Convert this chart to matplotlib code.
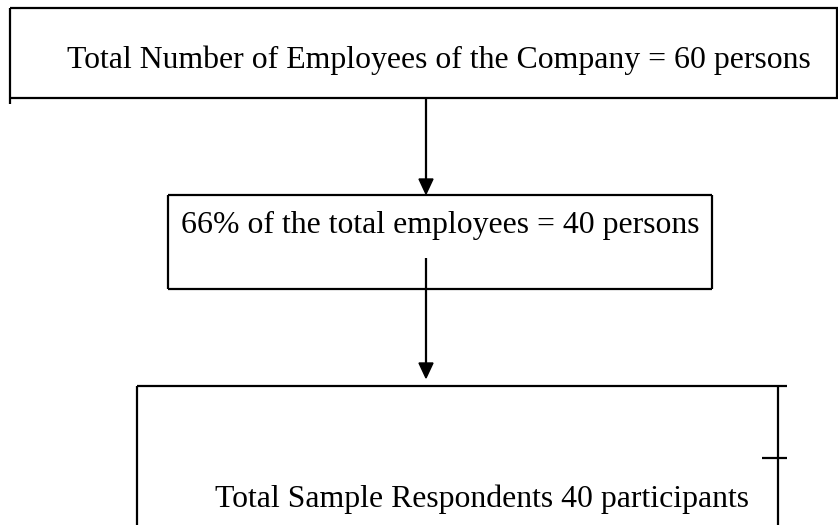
import matplotlib
matplotlib.use("Agg")
import matplotlib.pyplot as plt
from matplotlib.patches import Polygon

# ---- content ----
box_texts = [
    "Total Number of Employees of the Company = 60 persons",
    "66% of the total employees = 40 persons",
    "Total Sample Respondents 40 participants",
]

W, H = 838, 525
fig = plt.figure(figsize=(W / 100, H / 100), dpi=100)
ax = fig.add_axes([0, 0, 1, 1])
ax.set_xlim(0, W)
ax.set_ylim(H, 0)
ax.axis("off")

lw = 1.6
kw = dict(color="black", lw=lw, solid_capstyle="butt")
FONT = "Liberation Serif"
FS = 22.9

def line(x0, y0, x1, y1):
    ax.plot([x0, x1], [y0, y1], **kw)

# top box
line(10, 8, 838, 8)
line(10, 98, 838, 98)
line(10, 8, 10, 104)
line(837, 8, 837, 98)
ax.text(67, 68, box_texts[0], fontsize=FS, family=FONT, va="baseline", ha="left")

# arrow 1
ax.plot([426, 426], [98, 180], **kw)
ax.add_patch(Polygon([[419, 179], [433, 179], [426, 194]], closed=True, color="black"))

# middle box
line(168, 195, 712, 195)
line(168, 289, 712, 289)
line(168, 195, 168, 289)
line(712, 195, 712, 289)
ax.text(181, 233, box_texts[1], fontsize=FS, family=FONT, va="baseline", ha="left")

# arrow 2
ax.plot([426, 426], [258, 364], **kw)
ax.add_patch(Polygon([[419, 363], [433, 363], [426, 378]], closed=True, color="black"))

# bottom box
line(137, 386, 787, 386)
line(137, 386, 137, 525)
line(778, 386, 778, 525)
line(762, 458, 787, 458)
ax.text(215, 507, box_texts[2], fontsize=FS, family=FONT, va="baseline", ha="left")

fig.savefig("out.png", dpi=100)
